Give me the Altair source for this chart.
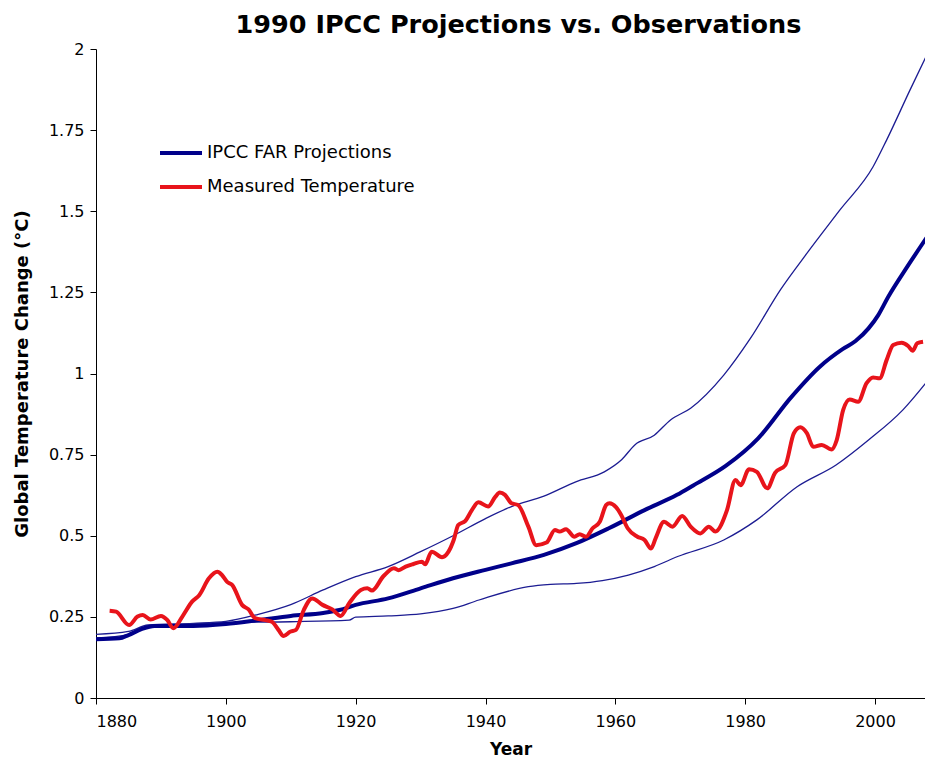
import altair as alt
import pandas as pd

# IPCC FAR central projection
proj_years = [1880, 1883.6, 1885, 1887, 1889, 1895, 1900, 1905, 1910, 1915, 1917.5, 1920, 1925, 1930, 1935,
              1940, 1944, 1949, 1954, 1959, 1964.5, 1969.5, 1972, 1977, 1982, 1987, 1991.5, 1995, 1997,
              1999, 2000.5, 2002, 2005, 2008.5]
proj_vals = [0.181, 0.184, 0.194, 0.212, 0.222, 0.222, 0.228, 0.240, 0.253, 0.262, 0.271, 0.287, 0.307, 0.338,
             0.369, 0.395, 0.415, 0.441, 0.477, 0.523, 0.579, 0.626, 0.655, 0.715, 0.800, 0.925, 1.021, 1.075,
             1.100, 1.139, 1.180, 1.235, 1.330, 1.435]

# Upper band
upper_years = [1880, 1885, 1888, 1895, 1900, 1905, 1910, 1915, 1920, 1925, 1930, 1935, 1940, 1944, 1949,
               1954, 1958.3, 1961, 1963, 1966, 1968.5, 1971.6, 1976.7, 1980.8, 1985.5, 1989.5, 1994.6,
               1999.7, 2001.8, 2005.4, 2008.3]
upper_vals = [0.196, 0.205, 0.225, 0.230, 0.236, 0.258, 0.288, 0.333, 0.374, 0.405, 0.451, 0.500, 0.553,
              0.590, 0.622, 0.667, 0.697, 0.735, 0.780, 0.810, 0.857, 0.893, 0.995, 1.108, 1.260, 1.370,
              1.504, 1.637, 1.720, 1.874, 1.995]

# Lower band
lower_years = [1880, 1885, 1888, 1895, 1900, 1910, 1919, 1920, 1925, 1930, 1935, 1939, 1946.6, 1950, 1954,
               1958, 1962, 1966, 1969.6, 1976.7, 1981.8, 1988, 1994, 1999, 2004.3, 2008.4]
lower_vals = [0.185, 0.195, 0.220, 0.228, 0.232, 0.235, 0.240, 0.249, 0.253, 0.259, 0.276, 0.302, 0.343,
              0.350, 0.353, 0.362, 0.379, 0.405, 0.436, 0.487, 0.549, 0.651, 0.718, 0.795, 0.888, 0.985]

# Measured temperature
temp_years = [1882.1, 1883.1, 1885.1, 1886.4, 1887.2, 1888.4, 1890, 1891, 1891.9, 1893.3, 1894.8, 1895.9,
              1897.4, 1898.7, 1899.4, 1900.2, 1901, 1902.5, 1903.5, 1904.5, 1906.1, 1907.1, 1908.1, 1908.9,
              1909.9, 1910.8, 1912, 1913.3, 1914.9, 1916.4, 1917.7, 1919, 1920.8, 1921.8, 1922.5, 1924.3,
              1925.9, 1926.6, 1927.7, 1928.9, 1930.2, 1930.7, 1931.7, 1933.3, 1934.3, 1935.1, 1935.8, 1936.9,
              1937.9, 1938.9, 1940.4, 1941.5, 1942.2, 1943, 1944, 1945, 1946.6, 1947.8, 1949.4, 1950.7,
              1951.4, 1952.4, 1953.7, 1954.5, 1955.5, 1956.5, 1957.6, 1958.6, 1959.1, 1960.1, 1960.9, 1961.9,
              1963.4, 1964.5, 1965.5, 1966.2, 1967.5, 1968.8, 1970.3, 1971.6, 1973.1, 1974.4, 1975.4, 1977.2,
              1978.5, 1979.3, 1980.6, 1981.8, 1983.4, 1984.6, 1986.2, 1987.5, 1988.5, 1989.5, 1990.5, 1991.8,
              1993.3, 1994.1, 1995.1, 1996.1, 1997.4, 1998.7, 1999.7, 2000.7, 2001.8, 2002.8, 2004.1, 2005.1,
              2005.8, 2006.5, 2007.4]
temp_vals = [0.269, 0.266, 0.225, 0.251, 0.256, 0.242, 0.253, 0.240, 0.215, 0.251, 0.297, 0.317,
             0.369, 0.389, 0.379, 0.358, 0.348, 0.287, 0.273, 0.246, 0.240, 0.235, 0.210, 0.191,
             0.204, 0.210, 0.271, 0.307, 0.287, 0.273, 0.253, 0.292, 0.333, 0.338, 0.331, 0.376,
             0.400, 0.394, 0.405, 0.413, 0.420, 0.412, 0.451, 0.434, 0.451, 0.487, 0.533, 0.546,
             0.579, 0.603, 0.590, 0.620, 0.633, 0.626, 0.600, 0.595, 0.528, 0.471, 0.479, 0.518,
             0.513, 0.520, 0.497, 0.505, 0.497, 0.523, 0.543, 0.595, 0.600, 0.588, 0.564, 0.523,
             0.497, 0.487, 0.461, 0.492, 0.543, 0.528, 0.561, 0.528, 0.507, 0.528, 0.513, 0.579,
             0.672, 0.656, 0.705, 0.697, 0.646, 0.694, 0.718, 0.816, 0.834, 0.816, 0.774, 0.780,
             0.766, 0.795, 0.888, 0.920, 0.913, 0.970, 0.988, 0.985, 1.042, 1.088, 1.095, 1.085,
             1.070, 1.093, 1.098]

series_names = ["IPCC FAR Projections", "Measured Temperature"]
series_colors = ["#00008a", "#e8141b"]

main_df = pd.concat([
    pd.DataFrame({"Year": proj_years, "Value": proj_vals, "Series": series_names[0], "order": 0}),
    pd.DataFrame({"Year": temp_years, "Value": temp_vals, "Series": series_names[1], "order": 1}),
])
band_df = pd.concat([
    pd.DataFrame({"Year": upper_years, "Value": upper_vals, "Band": "upper"}),
    pd.DataFrame({"Year": lower_years, "Value": lower_vals, "Band": "lower"}),
])

FONT = "DejaVu Sans"
x_scale = alt.Scale(domain=[1880, 2007.7], nice=False, zero=False)
y_scale = alt.Scale(domain=[0, 2], nice=False)

x_axis = alt.Axis(values=list(range(1880, 2001, 20)), format="d", title="Year", grid=False,
                  labelFontSize=16, titleFontSize=17, titleFontWeight="bold", labelPadding=9,
                  titlePadding=12, tickSize=6)
y_axis = alt.Axis(values=[0, 0.25, 0.5, 0.75, 1, 1.25, 1.5, 1.75, 2],
                  labelExpr="format(datum.value, '.2~f')",
                  title="Global Temperature Change (°C)", grid=False, labelFontSize=16,
                  titleFontSize=18, titleFontWeight="bold", labelPadding=6, titlePadding=17, tickSize=6)

bands = alt.Chart(band_df).mark_line(color="#1c1c92", strokeWidth=1.3, clip=True,
                                     interpolate="monotone").encode(
    x=alt.X("Year:Q", scale=x_scale, axis=x_axis),
    y=alt.Y("Value:Q", scale=y_scale, axis=y_axis),
    detail="Band:N",
)

main = alt.Chart(main_df).mark_line(strokeWidth=4, clip=True, interpolate="monotone").encode(
    x=alt.X("Year:Q", scale=x_scale),
    y=alt.Y("Value:Q", scale=y_scale),
    color=alt.Color("Series:N", scale=alt.Scale(domain=series_names, range=series_colors),
                    legend=alt.Legend(title=None, orient="none", legendX=62, legendY=81,
                                      symbolType="stroke", symbolSize=1764, symbolStrokeWidth=4,
                                      labelFontSize=18, rowPadding=2, labelOffset=3, labelLimit=0)),
    order="order:Q",
)

chart = alt.layer(bands, main).properties(
    width=829, height=649,
    title=alt.TitleParams("1990 IPCC Projections vs. Observations", fontSize=25.5, fontWeight="bold",
                          font=FONT, offset=3, anchor="middle", dx=8),
    autosize=alt.AutoSizeParams(type="none"),
    padding={"left": 88, "top": 41, "right": 0, "bottom": 61},
).configure_view(stroke=None).configure_axis(
    labelFont=FONT, titleFont=FONT, domainColor="black", tickColor="black",
    labelColor="black", titleColor="black",
).configure_legend(labelFont=FONT, labelColor="black")

chart.save("out.html", embed_options={"renderer": "svg", "actions": False})
